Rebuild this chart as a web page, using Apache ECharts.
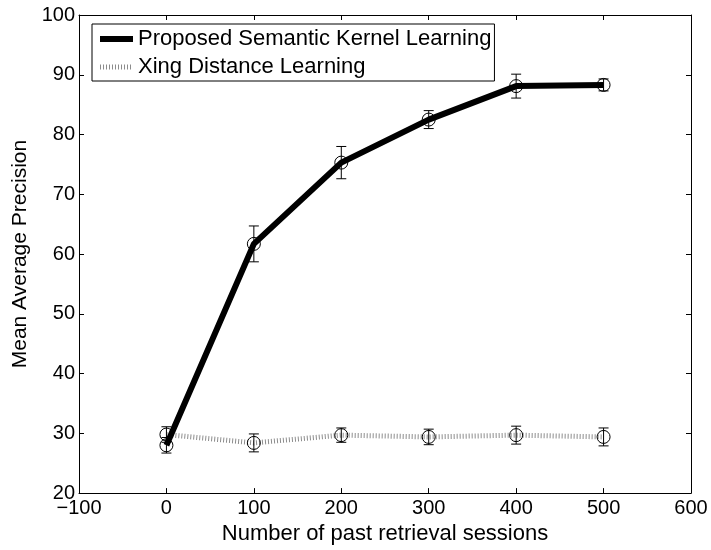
<!DOCTYPE html>
<html>
<head>
<meta charset="utf-8">
<script src="https://cdn.jsdelivr.net/npm/echarts@6/dist/echarts.min.js"></script>
<style>
  html, body { margin: 0; padding: 0; background: #fff; }
  #chart { width: 711px; height: 550px; }
</style>
</head>
<body>
<div id="chart"></div>
<script>
var sessions = [0, 100, 200, 300, 400, 500];
var semanticMean = [28.0, 61.7, 75.3, 82.5, 88.1, 88.3];
var semanticErr = [1.3, 3.0, 2.7, 1.5, 2.0, 1.0];
var xingMean = [29.8, 28.4, 29.7, 29.4, 29.7, 29.4];
var xingErr = [1.3, 1.5, 1.2, 1.3, 1.5, 1.5];

var font = 'Liberation Sans, Arial, Helvetica, sans-serif';

function pairs(xs, ys) {
  return xs.map(function (x, i) { return [x, ys[i]]; });
}
function errRows(xs, ys, es) {
  return xs.map(function (x, i) { return [x, ys[i] - es[i], ys[i] + es[i]]; });
}

// error bar with small caps
function renderErr(params, api) {
  var x = api.value(0);
  var lo = api.coord([x, api.value(1)]);
  var hi = api.coord([x, api.value(2)]);
  var cap = 5;
  var style = { stroke: '#000', lineWidth: 1 };
  return {
    type: 'group',
    children: [
      { type: 'line', shape: { x1: lo[0], y1: lo[1], x2: hi[0], y2: hi[1] }, style: style },
      { type: 'line', shape: { x1: lo[0] - cap, y1: lo[1], x2: lo[0] + cap, y2: lo[1] }, style: style },
      { type: 'line', shape: { x1: hi[0] - cap, y1: hi[1], x2: hi[0] + cap, y2: hi[1] }, style: style }
    ]
  };
}

var chart = echarts.init(document.getElementById('chart'), null, { renderer: 'canvas' });

var axisLine = { show: true, onZero: false, lineStyle: { color: '#000', width: 1 } };
var ticksIn = { show: true, inside: true, length: 5, lineStyle: { color: '#000' } };

var semLine = { color: '#000', width: 6 };
var xingLine = { color: '#8c8c8c', width: 5, type: [1, 2], cap: 'butt' };

var option = {
  animation: false,
  backgroundColor: '#fff',
  grid: { left: 79, top: 15, right: 20, bottom: 53 },
  legend: {
    left: 92,
    top: 24,
    orient: 'vertical',
    data: [
      { name: 'Proposed Semantic Kernel Learning', lineStyle: semLine },
      { name: 'Xing Distance Learning', lineStyle: xingLine }
    ],
    backgroundColor: '#fff',
    borderColor: '#000',
    borderWidth: 1,
    borderRadius: 0,
    padding: [4, 3, 3, 5],
    itemGap: 6,
    itemWidth: 33,
    itemHeight: 14,
    itemStyle: { opacity: 0 },
    textStyle: { fontFamily: font, fontSize: 22, color: '#000' }
  },
  xAxis: [{
    type: 'value',
    min: -100,
    max: 600,
    interval: 100,
    name: 'Number of past retrieval sessions',
    nameLocation: 'middle',
    nameGap: 27,
    nameTextStyle: { fontFamily: font, fontSize: 22, color: '#000' },
    axisLine: axisLine,
    axisTick: ticksIn,
    splitLine: { show: false },
    axisLabel: {
      margin: 5,
      fontFamily: font, fontSize: 20, color: '#000',
      formatter: function (v) { return String(v).replace('-', '\u2212'); }
    }
  }, {
    type: 'value',
    position: 'top',
    min: -100,
    max: 600,
    interval: 100,
    axisLine: axisLine,
    axisTick: ticksIn,
    axisLabel: { show: false },
    splitLine: { show: false }
  }],
  yAxis: [{
    type: 'value',
    min: 20,
    max: 100,
    interval: 10,
    name: 'Mean Average Precision',
    nameLocation: 'middle',
    nameGap: 47,
    nameTextStyle: { fontFamily: font, fontSize: 21, color: '#000' },
    axisLine: axisLine,
    axisTick: ticksIn,
    splitLine: { show: false },
    axisLabel: { margin: 4, fontFamily: font, fontSize: 20, color: '#000' }
  }, {
    type: 'value',
    position: 'right',
    min: 20,
    max: 100,
    interval: 10,
    axisLine: axisLine,
    axisTick: ticksIn,
    axisLabel: { show: false },
    splitLine: { show: false }
  }],
  series: [
    {
      name: 'Xing Distance Learning',
      type: 'line',
      data: pairs(sessions, xingMean),
      symbol: 'circle',
      symbolSize: 13,
      lineStyle: xingLine,
      itemStyle: { color: 'rgba(0,0,0,0)', borderColor: '#000', borderWidth: 1 },
      z: 2
    },
    {
      name: 'Proposed Semantic Kernel Learning',
      type: 'line',
      data: pairs(sessions, semanticMean),
      symbol: 'circle',
      symbolSize: 13,
      lineStyle: semLine,
      itemStyle: { color: 'rgba(0,0,0,0)', borderColor: '#000', borderWidth: 1 },
      z: 3
    },
    {
      name: 'xingErr',
      type: 'custom',
      renderItem: renderErr,
      data: errRows(sessions, xingMean, xingErr),
      encode: { x: 0, y: [1, 2] },
      z: 4
    },
    {
      name: 'semErr',
      type: 'custom',
      renderItem: renderErr,
      data: errRows(sessions, semanticMean, semanticErr),
      encode: { x: 0, y: [1, 2] },
      z: 4
    }
  ]
};

chart.setOption(option);
window.addEventListener('resize', chart.resize);
</script>
</body>
</html>
